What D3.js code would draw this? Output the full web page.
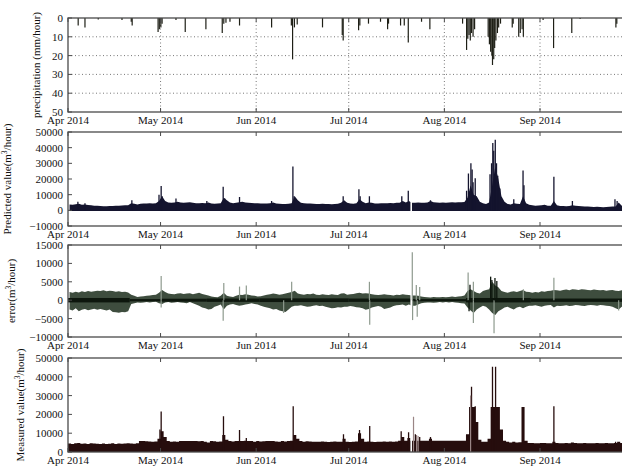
<!DOCTYPE html>
<html><head><meta charset="utf-8">
<script src="https://cdn.jsdelivr.net/npm/d3@7"></script>
<style>
body{margin:0;background:#fff}
svg{display:block}
text{font-family:"Liberation Serif","Times New Roman",serif;font-size:11px;fill:#111}
</style>
</head><body>
<svg id="c" width="622" height="466"></svg>
<script>
// ---------------- DATA ----------------
const startDate = "2014-04-01";
const endDate = "2014-10-01";
const monthTicks = ["2014-04-01","2014-05-01","2014-06-01","2014-07-01","2014-08-01","2014-09-01"];
const monthLabels = ["Apr 2014","May 2014","Jun 2014","Jul 2014","Aug 2014","Sep 2014"];

const precipTicks = [0,10,20,30,40,50];
const predTicks = [-10000,0,10000,20000,30000,40000,50000];
const errTicks = [-10000,-5000,0,5000,10000,15000];
const measTicks = [0,10000,20000,30000,40000,50000];

// precipitation events: [day since Apr 1, mm/hour]
const precipEvents = [
 [3.3,4],[5.5,5],[9.8,0.8],[17.5,1],[20.5,2],[20.8,4],[29.2,7.5],[29.6,6],[30.1,5],[30.5,3],
 [35,1],[38,7.5],[44.7,6],[50,8],[50.5,3],[51.2,2.5],[52.5,2],[55.6,4],[66,5],[72.4,4],
 [72.8,22],[73.4,5],[74.3,3.5],[82.5,5],[88.9,9],[89.2,12],[94.2,6.5],[94.6,4],[97.4,3],[101.3,2],
 [103.6,6],[103.9,3],[107.8,4],[109,4],[110.3,13],[114.6,2],[117.3,6],[127.9,3],[129.2,17],[129.6,11],
 [130.0,9],[130.4,12],[130.8,8],[131.3,10],[131.8,6],[136.2,10],[136.6,14],[137.0,18],[137.4,20],[137.6,25],
 [138.0,22],[138.3,16],[138.7,12],[139.2,8],[139.6,5],[140.2,3],[144,5],[144.3,3],[146.1,10],[146.6,8],
 [147.2,6],[147.6,10],[154,1],[157.4,16],[163.3,8],[166,0.5],[177.6,5],[177.9,3]
];

// predicted value, daily upper level of the band (m3/hour), day 0 = Apr 1
const predictedTop = [
 3800,3600,3900,4200,3500,3800,3400,3200,3000,2900,
 2700,2600,2600,2700,2800,2900,3000,3100,3200,3300,
 4500,4200,3800,4200,4400,4300,4500,4400,4600,6000,
 9000,6000,5000,4800,5000,5500,5000,4800,5000,5200,
 4800,4600,4500,4700,4600,5000,4400,4200,4300,4500,
 8000,6500,5000,4500,4800,5200,5500,5000,4800,4700,
 4600,4500,4400,4300,4300,4600,5000,4400,4200,4100,
 4000,4200,4500,9000,6500,4800,4500,4400,4300,4200,
 4100,4000,4200,4100,4000,3900,4000,4200,4800,6500,
 4800,4300,4200,4500,7000,5500,4500,5000,4800,4300,
 4400,4500,4600,4500,4700,4600,4800,4900,6000,5000,
 6000,4800,4800,5000,4800,4900,5000,6000,5200,5000,
 4900,5000,4900,5000,5100,5000,5100,5200,5300,8000,
 16000,10000,9000,5500,4500,4000,5000,16000,28000,20000,
 9000,5500,4000,3800,4500,4200,4000,9000,4500,3500,
 3200,3000,3100,3300,3500,3000,2900,6000,3200,2800,
 2700,2600,2800,3300,3000,2700,2600,2500,2400,2300,
 2200,2300,2100,2000,2200,2300,2400,2500,5000,3000,
 2500,2400,2300
];
const predictedLow = -400;
const predictedSpikes = [
 [3.2,5500],[5.5,4500],[20.7,6500],[29.5,10000],[30.2,15500],[30.5,9000],[35,7500],[45,6000],
 [50.3,15000],[50.8,7500],[55.6,8500],[66,6000],[72.9,28000],[73.3,9000],[89.2,9000],[94.3,13500],
 [94.7,9000],[97.7,9000],[108.2,9000],[110.3,12500],[117.5,6500],[129.2,12500],[129.8,23500],[130.6,30000],
 [131,26000],[131.3,18000],[132,20500],[136.8,23000],[137.3,30000],[137.7,43000],[138.0,38000],[138.5,45000],
 [138.9,30000],[139.3,22000],[140,14000],[144.5,7000],[147.5,25500],[147.8,16000],[157.5,21500],[163.5,6000],
 [177.3,7000],[178,6000]
];

// data gap (missing records)
const dataGap = ["2014-07-21T00:00:00Z","2014-07-21T12:00:00Z"];

// error envelope (daily upper / lower)
const errorUpper = [
 2200,2000,2300,2100,2400,2200,2500,2300,2400,2600,
 2500,2700,2400,2600,2500,2300,2400,2200,2300,2100,
 1500,1200,900,1000,1100,1200,1300,1400,1500,2000,
 2800,2200,1800,1700,1600,1800,1900,1700,1800,1900,
 1600,1800,2000,1700,1500,1300,1000,900,800,1200,
 2000,1200,1000,900,1200,1500,1400,1600,1500,1300,
 1200,1000,1100,1300,1500,1600,1800,1700,1500,1600,
 1800,2000,2200,2600,1800,1600,1500,1700,1600,1800,
 1500,1400,1600,1500,1400,1600,1500,1400,1800,1900,
 1500,1600,1700,1900,2000,1800,1900,1800,1600,1500,
 1400,1500,1600,1500,1400,1300,1500,1400,1600,1500,
 1400,1300,1300,1200,1000,900,800,700,900,800,
 800,900,800,900,1000,900,1000,1100,1300,2500,
 3000,2500,2000,1800,2500,2800,3000,5000,4000,3500,
 2500,2200,2000,2300,2400,2200,2500,2800,2300,2200,
 2000,2200,2100,2400,2300,2500,2600,2800,2700,2600,
 2800,2900,2700,3000,2900,2800,3000,2900,2800,2700,
 2900,2800,2700,2800,2600,2700,2800,2600,2500,2700,
 2600,2700,2500
];
const errorLower = [
 -2500,-2800,-2200,-3000,-2600,-2400,-2700,-2500,-2300,-2600,
 -2400,-2600,-2800,-2500,-3200,-3300,-3400,-3200,-3300,-3000,
 -1000,-800,-600,-700,-600,-500,-600,-500,-400,-800,
 -1000,-600,-500,-700,-600,-500,-600,-700,-800,-500,
 -800,-1200,-1500,-2000,-2200,-2500,-2400,-1800,-1500,-1200,
 -2500,-1500,-1200,-1000,-1300,-1500,-1400,-1200,-1000,-800,
 -1000,-1200,-1500,-1800,-2000,-2200,-2500,-2400,-2800,-3000,
 -3200,-2500,-1800,-1500,-1500,-1400,-1600,-1800,-1700,-1500,
 -1400,-1600,-1500,-1800,-2000,-2200,-2100,-1900,-2000,-1800,
 -1800,-1600,-1700,-1900,-2000,-2200,-2600,-2400,-2000,-1800,
 -1600,-1800,-2400,-2200,-2000,-1600,-1400,-1300,-1200,-1500,
 -1200,-1500,-1500,-1200,-800,-700,-600,-600,-700,-600,
 -500,-600,-500,-600,-500,-600,-700,-800,-900,-2000,
 -2800,-3500,-2500,-2000,-1500,-1800,-2500,-3500,-4000,-3000,
 -2500,-2000,-1800,-2200,-2500,-2000,-1800,-2200,-1800,-1500,
 -1500,-1400,-1600,-1800,-1500,-1400,-1300,-2000,-1500,-1600,
 -1500,-1400,-1600,-1500,-1300,-1400,-1500,-1600,-1400,-1300,
 -1400,-1500,-1300,-1400,-1500,-1600,-1800,-2200,-2500,-1800,
 -1500,-1400,-1600
];
// dark core of the error band: [start day, end day, half width]
const errorCore = [[0,20,600],[20,30,300],[30,45,400],[45,62,450],[62,91,500],[91,111,450],[111,129,300],[129,150,600],[150,183,450]];
const errorSpikesLight = [
 [30.2,6600],[30.2,-2000],[50.3,-5600],[50.5,4700],[55.6,3700],[57.8,4000],[69.9,-3500],[72.5,5000],
 [97.7,5000],[97.8,-6700],[111.6,13000],[111.7,-5400],[112.9,4100],[113.2,-4500],[114,3600],[129.7,7500],
 [131.4,5000],[131.4,-6200],[138.1,-9000],[147.6,3000],[157.5,6100],[178.5,-2800]
];
const errorSpikesDark = [[130,-3000],[137,6400],[137.4,5500],[138.4,6000],[139,5200],[130.3,4200]];

// measured value, daily upper level (m3/hour)
const measuredTop = [
 4500,4200,4600,4800,4400,4500,4300,4600,4500,4400,
 4300,4500,4200,4400,4600,4300,4500,4400,4500,4600,
 4500,4400,4600,5800,5800,5700,5600,5500,5600,7000,
 11000,8000,5800,5500,5600,5500,5800,5800,5800,5800,
 5800,5800,5700,5800,5500,5000,5800,5700,5500,5600,
 9000,6500,5800,5600,5800,5900,5800,6000,5800,5800,
 5500,5800,5600,5700,5800,5900,5800,5600,5500,5800,
 5600,5800,6000,9000,7000,5800,5500,5700,5600,5500,
 5400,5500,5600,5400,5300,5500,5600,5400,5500,7000,
 5500,5300,5400,5600,10000,7000,5500,5600,5400,5300,
 5500,5400,5600,5500,5600,5500,5600,6000,8000,6000,
 7500,6000,6000,6000,6000,6000,6000,7000,6000,6000,
 6000,6000,6000,6000,6000,6000,6000,6000,6000,9500,
 24000,24000,16000,6500,5500,5500,7000,24000,24000,24000,
 12000,6000,5500,5000,5500,5000,5200,24000,6000,4800,
 4800,4600,4700,4800,4800,4600,4700,5500,4800,4700,
 4600,4800,4700,5000,4800,4700,4600,4800,4700,4600,
 4700,4800,4600,4700,4800,4600,4700,4800,5500,4800,
 4700,4600,4700
];
const measuredSpikes = [
 [29.8,12000],[30.2,21500],[50.4,19000],[55.6,11700],[57.8,7500],[73,24400],[89.3,9500],[94.5,11700],
 [97.8,13800],[108,11000],[110.4,10500],[112.6,9500],[114,8000],[117.5,8000],[130.8,34700],[132,24400],
 [137.6,45400],[138.6,45400],[157.5,24400],[177.5,5500]
];
const measuredSpikesLight = [[112,18800],[113,9000],[113.5,8500],[130.5,30000]];

// ---------------- DRAWING ----------------
const svg = d3.select("#c");
const t0 = new Date(startDate + "T00:00:00Z");
const dayDate = d => new Date(t0.getTime() + d * 864e5);
const x = d3.scaleUtc().domain([t0, new Date(endDate + "T00:00:00Z")]).range([68, 68 + 183 * 3.085]);
const X0 = 68, X1 = 68 + 183 * 3.085;

const panels = [
 {top:18, bottom:112, domain:[0,50], ticks:precipTicks, invert:true, label:"precipitation (mm/hour)", lx:40, sup:false},
 {top:132, bottom:226, domain:[-10000,50000], ticks:predTicks, label:"Predicted value(m", lx:11, sup:true},
 {top:245, bottom:337, domain:[-10000,15000], ticks:errTicks, label:"error(m", lx:15, sup:true},
 {top:358, bottom:452, domain:[0,50000], ticks:measTicks, label:"Measured value(m", lx:24, sup:true}
];
panels.forEach((p,i) => {
  p.y = d3.scaleLinear().domain(p.domain).range(p.invert ? [p.top, p.bottom] : [p.bottom, p.top]);
  p.g = svg.append("g");
  const cid = "clip" + i;
  svg.append("clipPath").attr("id", cid).append("rect")
    .attr("x", X0).attr("y", p.top).attr("width", X1 - X0).attr("height", p.bottom - p.top);
  p.plot = p.g.append("g").attr("clip-path", `url(#${cid})`);
});

const fmt = v => v < 0 ? "\u2212" + Math.abs(v) : String(v);

// Panel 1: precipitation
{
  const p = panels[0];
  p.plot.selectAll(".gy").data(p.ticks.slice(1,-1)).join("line")
    .attr("x1", X0).attr("x2", X1).attr("y1", d => p.y(d)).attr("y2", d => p.y(d))
    .attr("stroke", "#555").attr("stroke-width", 0.8).attr("stroke-dasharray", "1,2.5");
  p.plot.selectAll(".gx").data(monthTicks.slice(1)).join("line")
    .attr("x1", d => x(new Date(d))).attr("x2", d => x(new Date(d)))
    .attr("y1", p.top).attr("y2", p.bottom)
    .attr("stroke", "#555").attr("stroke-width", 0.8).attr("stroke-dasharray", "1,2.5");
  p.plot.selectAll(".bar").data(precipEvents).join("line")
    .attr("x1", d => x(dayDate(d[0]))).attr("x2", d => x(dayDate(d[0])))
    .attr("y1", p.y(0)).attr("y2", d => p.y(d[1]))
    .attr("stroke", "#1e1f16").attr("stroke-width", 1.2);
}

// Panel 2: predicted
{
  const p = panels[1];
  const area = d3.area().x((d,i) => x(dayDate(i + 0.5))).y0(p.y(predictedLow)).y1(d => p.y(d));
  p.plot.append("path").datum(predictedTop).attr("d", area).attr("fill", "#14142e");
  p.plot.selectAll(".sp").data(predictedSpikes).join("line")
    .attr("x1", d => x(dayDate(d[0]))).attr("x2", d => x(dayDate(d[0])))
    .attr("y1", p.y(0)).attr("y2", d => p.y(d[1]))
    .attr("stroke", "#14142e").attr("stroke-width", 1.3);
  p.plot.append("rect").attr("x", x(new Date(dataGap[0]))).attr("width", x(new Date(dataGap[1])) - x(new Date(dataGap[0])))
    .attr("y", p.top).attr("height", p.bottom - p.top).attr("fill", "#fff");
}

// Panel 3: error
{
  const p = panels[2];
  const env = d3.area().x((d,i) => x(dayDate(i + 0.5))).y0((d,i) => p.y(errorLower[i])).y1(d => p.y(d));
  p.plot.append("path").datum(errorUpper).attr("d", env).attr("fill", "#3e4d3e");
  p.plot.selectAll(".core").data(errorCore).join("rect")
    .attr("x", d => x(dayDate(d[0]))).attr("width", d => x(dayDate(d[1])) - x(dayDate(d[0])))
    .attr("y", d => p.y(d[2])).attr("height", d => p.y(-d[2]) - p.y(d[2]))
    .attr("fill", "#0d160d");
  p.plot.append("rect").attr("x", x(new Date(dataGap[0]))).attr("width", x(new Date(dataGap[1])) - x(new Date(dataGap[0])))
    .attr("y", p.top).attr("height", p.bottom - p.top).attr("fill", "#fff");
  p.plot.selectAll(".sl").data(errorSpikesLight).join("line")
    .attr("x1", d => x(dayDate(d[0]))).attr("x2", d => x(dayDate(d[0])))
    .attr("y1", p.y(0)).attr("y2", d => p.y(d[1]))
    .attr("stroke", "#8e9a8e").attr("stroke-width", 1.2);
  p.plot.selectAll(".sd").data(errorSpikesDark).join("line")
    .attr("x1", d => x(dayDate(d[0]))).attr("x2", d => x(dayDate(d[0])))
    .attr("y1", p.y(0)).attr("y2", d => p.y(d[1]))
    .attr("stroke", "#0d160d").attr("stroke-width", 1.3);
}

// Panel 4: measured
{
  const p = panels[3];
  const area = d3.area().curve(d3.curveStepAfter).x((d,i) => x(dayDate(i))).y0(p.y(0)).y1(d => p.y(d));
  p.plot.append("path").datum(measuredTop.concat([measuredTop[measuredTop.length-1]])).attr("d", area).attr("fill", "#260d0d");
  p.plot.selectAll(".sp").data(measuredSpikes).join("line")
    .attr("x1", d => x(dayDate(d[0]))).attr("x2", d => x(dayDate(d[0])))
    .attr("y1", p.y(0)).attr("y2", d => p.y(d[1]))
    .attr("stroke", "#260d0d").attr("stroke-width", 1.3);
  p.plot.append("rect").attr("x", x(new Date(dataGap[0]))).attr("width", x(new Date(dataGap[1])) - x(new Date(dataGap[0])))
    .attr("y", p.top).attr("height", p.bottom - p.top).attr("fill", "#fff");
  p.plot.selectAll(".sl").data(measuredSpikesLight).join("line")
    .attr("x1", d => x(dayDate(d[0]))).attr("x2", d => x(dayDate(d[0])))
    .attr("y1", p.y(0)).attr("y2", d => p.y(d[1]))
    .attr("stroke", "#9a8585").attr("stroke-width", 1.2);
}

// Frames, ticks, labels
panels.forEach(p => {
  const g = p.g;
  g.append("rect").attr("x", X0).attr("y", p.top).attr("width", X1 - X0).attr("height", p.bottom - p.top)
    .attr("fill", "none").attr("stroke", "#4a4a4a").attr("stroke-width", 1.3);
  monthTicks.forEach(m => {
    const xm = x(new Date(m));
    g.append("line").attr("x1", xm).attr("x2", xm).attr("y1", p.bottom).attr("y2", p.bottom - 4).attr("stroke", "#4a4a4a");
    g.append("line").attr("x1", xm).attr("x2", xm).attr("y1", p.top).attr("y2", p.top + 4).attr("stroke", "#4a4a4a");
  });
  g.selectAll(".mlab").data(monthTicks).join("text")
    .attr("x", d => x(new Date(d))).attr("y", p.bottom + 12).attr("text-anchor", "middle")
    .text((d,i) => monthLabels[i]);
  p.ticks.forEach(t => {
    g.append("line").attr("x1", X0).attr("x2", X0 + 4).attr("y1", p.y(t)).attr("y2", p.y(t)).attr("stroke", "#4a4a4a");
  });
  g.selectAll(".ylab").data(p.ticks).join("text")
    .attr("x", 63).attr("y", d => p.y(d) + 4).attr("text-anchor", "end").text(d => fmt(d));
  const cy = (p.top + p.bottom) / 2;
  const lab = g.append("text").attr("transform", `translate(${p.lx},${cy}) rotate(-90)`).attr("text-anchor", "middle");
  if (p.sup) {
    lab.append("tspan").text(p.label);
    lab.append("tspan").attr("dy", -4).style("font-size", "7.5px").text("3");
    lab.append("tspan").attr("dy", 4).text("/hour)");
  } else {
    lab.text(p.label);
  }
});
</script>
</body></html>
